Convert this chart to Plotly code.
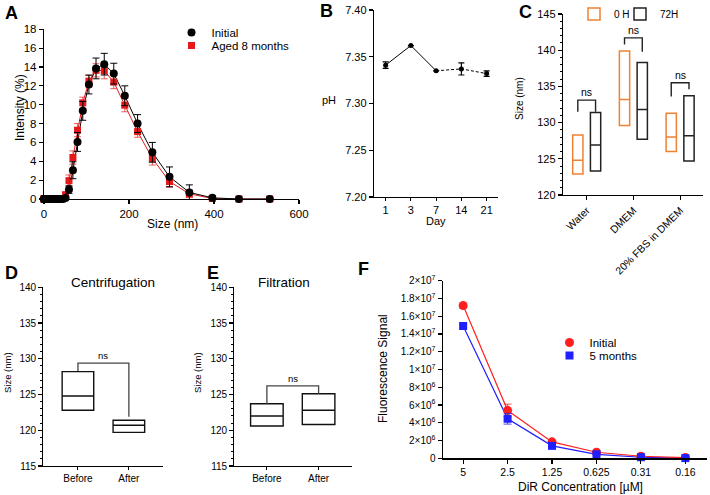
import plotly.graph_objects as go

W, H = 710, 495
FONT = "Arial, Liberation Sans, sans-serif"

# ---------------- Panel A data (DLS size distribution) ----------------
a_size = [0.4, 0.4632, 0.5365, 0.6213, 0.7195, 0.8332, 0.9649, 1.117, 1.294, 1.499,
          1.736, 2.01, 2.328, 2.696, 3.122, 3.615, 4.187, 4.849, 5.615, 6.503,
          7.531, 8.721, 10.1, 11.7, 13.54, 15.69, 18.17, 21.04, 24.36, 28.21,
          32.67, 37.84, 43.82, 50.75, 58.77, 68.06, 78.82, 91.28, 105.7, 122.4,
          141.8, 164.2, 190.1, 220.2, 255.0, 295.3, 342.0, 396.1, 458.7, 531.2]
a_initial = [0.0] * 33 + [0.1, 1.0, 3.05, 6.05, 9.35, 12.15, 13.85, 14.3, 13.3, 10.95,
                          8.0, 4.95, 2.35, 0.7, 0.12, 0.0, 0.0]
a_initial_err = [0.0] * 33 + [0.1, 0.4, 0.9, 1.0, 1.0, 1.0, 1.1, 1.15, 1.1, 1.05,
                              0.95, 1.05, 1.05, 0.8, 0.2, 0.0, 0.0]
a_aged = [0.0] * 33 + [0.45, 1.95, 4.4, 7.3, 10.2, 12.5, 13.65, 13.6, 12.4, 9.95,
                       7.15, 4.3, 1.85, 0.55, 0.05, 0.0, 0.0]
a_aged_err = [0.0] * 33 + [0.3, 0.6, 0.7, 0.7, 0.6, 0.6, 0.7, 0.85, 0.7, 0.7,
                           0.6, 0.7, 0.6, 0.4, 0.1, 0.0, 0.0]

# ---------------- Panel B data (pH) ----------------
b_days = ["1", "3", "7", "14", "21"]
b_ph = [7.341, 7.362, 7.335, 7.337, 7.332]
b_err = [0.0035, 0.0, 0.0, 0.0065, 0.003]

# ---------------- Panel C data (size in media) ----------------
c_groups = ["Water", "DMEM", "20% FBS in DMEM"]
c0_low = [122.9, 129.6, 126.0]
c0_mid = [124.8, 133.2, 128.0]
c0_high = [128.3, 139.9, 131.3]
c72_low = [123.3, 127.7, 124.7]
c72_mid = [126.9, 131.8, 128.2]
c72_high = [131.4, 138.3, 133.7]
c_br_top = [133.1, 141.7, 135.5]
c_br_left = [131.5, 140.8, 133.6]
c_br_right = [131.5, 139.8, 134.6]

# ---------------- Panel D / E data ----------------
de_labels = ["Before", "After"]
d_low = [122.8, 119.7]
d_mid = [124.8, 120.7]
d_high = [128.2, 121.4]
d_br = [129.4, 128.3, 121.9]   # bracket top, left leg end, right leg end
e_low = [120.6, 120.8]
e_mid = [122.0, 122.8]
e_high = [123.7, 125.1]
e_br = [126.2, 123.7, 125.1]

# ---------------- Panel F data (fluorescence) ----------------
f_conc = ["5", "2.5", "1.25", "0.625", "0.31", "0.16"]
f_init = [1.72e7, 5.4e6, 1.85e6, 6.8e5, 2.3e5, 8e4]
f_init_err = [3e5, 7e5, 1.5e5, 8e4, 4e4, 2e4]
f_5mo = [1.49e7, 4.45e6, 1.4e6, 4.5e5, 1.2e5, 2e4]
f_5mo_err = [2e5, 6e5, 1.2e5, 6e4, 3e4, 1e4]
f_yticks = [0, 2e6, 4e6, 6e6, 8e6, 1e7, 1.2e7, 1.4e7, 1.6e7, 1.8e7, 2e7]
f_yticktext = ["0", "2×10<sup>6</sup>", "4×10<sup>6</sup>", "6×10<sup>6</sup>", "8×10<sup>6</sup>",
               "1×10<sup>7</sup>", "1.2×10<sup>7</sup>", "1.4×10<sup>7</sup>", "1.6×10<sup>7</sup>",
               "1.8×10<sup>7</sup>", "2×10<sup>7</sup>"]


def px(x):
    return x / W


def py(y):
    return 1 - y / H


def dx(a, b):
    return [px(a), px(b)]


def dy(top, bottom):
    return [py(bottom), py(top)]


def axis(domain, rng, anchor, size=11, **kw):
    d = dict(domain=domain, range=rng, anchor=anchor, showline=True, linecolor="black",
             linewidth=1.2, ticks="outside", ticklen=4, tickwidth=1.1, tickcolor="black",
             showgrid=False, zeroline=False, fixedrange=True, automargin=False,
             ticklabeloverflow="allow",
             tickfont=dict(size=size, color="black", family=FONT))
    d.update(kw)
    return d


def legend_at(cx, cy, size=11.5, dy_sym=15.0):
    # single-entry legend whose symbol is centred near (cx, cy) pixels
    return dict(x=px(cx - 20.5), y=py(cy - dy_sym), xanchor="left", yanchor="top",
                bgcolor="rgba(0,0,0,0)", font=dict(family=FONT, size=size, color="black"),
                itemclick=False, itemdoubleclick=False)


fig = go.Figure()

# ---- Panel A ----
fig.add_trace(go.Scatter(x=a_size, y=a_aged, mode="lines", line=dict(color="#e41a1a", width=1),
                         xaxis="x", yaxis="y", showlegend=False, hoverinfo="skip", cliponaxis=False))
fig.add_trace(go.Scatter(x=a_size, y=a_initial, mode="lines", line=dict(color="black", width=1),
                         xaxis="x", yaxis="y", showlegend=False, hoverinfo="skip", cliponaxis=False))
fig.add_trace(go.Scatter(x=a_size, y=a_aged, mode="markers", name="Aged 8 months",
                         marker=dict(symbol="square", size=7, color="#e41a1a"),
                         error_y=dict(type="data", array=a_aged_err, color="rgba(228,40,40,0.75)",
                                      thickness=1, width=3.5),
                         xaxis="x", yaxis="y", legend="legend4", hoverinfo="skip", cliponaxis=False))
fig.add_trace(go.Scatter(x=a_size, y=a_initial, mode="markers", name="Initial",
                         marker=dict(symbol="circle", size=8, color="black"),
                         error_y=dict(type="data", array=a_initial_err, color="black",
                                      thickness=1, width=3.5),
                         xaxis="x", yaxis="y", legend="legend", hoverinfo="skip", cliponaxis=False))

# ---- Panel B ----
fig.add_trace(go.Scatter(x=b_days[:3], y=b_ph[:3], mode="lines", line=dict(color="black", width=1),
                         xaxis="x2", yaxis="y2", showlegend=False, hoverinfo="skip"))
fig.add_trace(go.Scatter(x=b_days[2:], y=b_ph[2:], mode="lines",
                         line=dict(color="black", width=1, dash="3px,2px"),
                         xaxis="x2", yaxis="y2", showlegend=False, hoverinfo="skip"))
fig.add_trace(go.Scatter(x=b_days, y=b_ph, mode="markers", marker=dict(size=5, color="black"),
                         error_y=dict(type="data", array=b_err, color="black", thickness=1.2, width=3),
                         xaxis="x2", yaxis="y2", showlegend=False, hoverinfo="skip"))

# ---- Panel C ----
c_pos = list(range(len(c_groups)))
c_off = 0.19
c0_x = [p - c_off for p in c_pos]
c72_x = [p + c_off for p in c_pos]
fig.add_trace(go.Box(x=c0_x, q1=c0_low, median=c0_mid, q3=c0_high, lowerfence=c0_low,
                     upperfence=c0_high, width=0.22, whiskerwidth=0, boxpoints=False,
                     fillcolor="rgba(0,0,0,0)", line=dict(color="#ef8133", width=1.5),
                     name="0 H", xaxis="x3", yaxis="y3", legend="legend2", hoverinfo="skip"))
fig.add_trace(go.Box(x=c72_x, q1=c72_low, median=c72_mid, q3=c72_high, lowerfence=c72_low,
                     upperfence=c72_high, width=0.22, whiskerwidth=0, boxpoints=False,
                     fillcolor="rgba(0,0,0,0)", line=dict(color="#222222", width=1.5),
                     name="72H", xaxis="x3", yaxis="y3", legend="legend5", hoverinfo="skip"))
bx, by = [], []
for i in c_pos:
    bx += [c0_x[i], c0_x[i], c72_x[i], c72_x[i], None]
    by += [c_br_left[i], c_br_top[i], c_br_top[i], c_br_right[i], None]
fig.add_trace(go.Scatter(x=bx, y=by, mode="lines", line=dict(color="#222222", width=1.4),
                         xaxis="x3", yaxis="y3", showlegend=False, hoverinfo="skip"))

# ---- Panel D & E ----
de_pos = [0, 1]
for (low, mid, high, br, xa, ya, w) in [(d_low, d_mid, d_high, d_br, "x4", "y4", 0.62),
                                        (e_low, e_mid, e_high, e_br, "x5", "y5", 0.63)]:
    fig.add_trace(go.Box(x=de_pos, q1=low, median=mid, q3=high, lowerfence=low, upperfence=high,
                         width=w, whiskerwidth=0, boxpoints=False, fillcolor="rgba(0,0,0,0)",
                         line=dict(color="#111111", width=1.4), xaxis=xa, yaxis=ya,
                         showlegend=False, hoverinfo="skip"))
    fig.add_trace(go.Scatter(x=[de_pos[0], de_pos[0], de_pos[1], de_pos[1]],
                             y=[br[1], br[0], br[0], br[2]], mode="lines",
                             line=dict(color="#444444", width=1.3), xaxis=xa, yaxis=ya,
                             showlegend=False, hoverinfo="skip"))

# ---- Panel F ----
fig.add_trace(go.Scatter(x=f_conc, y=f_5mo, mode="lines", line=dict(color="#1f1fff", width=1.2),
                         xaxis="x6", yaxis="y6", showlegend=False, hoverinfo="skip", cliponaxis=False))
fig.add_trace(go.Scatter(x=f_conc, y=f_init, mode="lines", line=dict(color="#ff1f1f", width=1.2),
                         xaxis="x6", yaxis="y6", showlegend=False, hoverinfo="skip", cliponaxis=False))
fig.add_trace(go.Scatter(x=f_conc, y=f_init, mode="markers", name="Initial",
                         marker=dict(symbol="circle", size=9, color="#ff1f1f"),
                         error_y=dict(type="data", array=f_init_err, color="rgba(230,40,40,0.8)",
                                      thickness=1, width=4),
                         xaxis="x6", yaxis="y6", legend="legend3", hoverinfo="skip", cliponaxis=False))
fig.add_trace(go.Scatter(x=f_conc, y=f_5mo, mode="markers", name="5 months",
                         marker=dict(symbol="square", size=8, color="#1f1fff"),
                         error_y=dict(type="data", array=f_5mo_err, color="rgba(40,40,230,0.8)",
                                      thickness=1, width=4),
                         xaxis="x6", yaxis="y6", legend="legend6", hoverinfo="skip", cliponaxis=False))

# ---------------- annotations ----------------
ann = []


def text(x, y, s, size=11, angle=0, bold=False, xanchor="center", yanchor="middle"):
    ann.append(dict(x=px(x), y=py(y), xref="paper", yref="paper", text=f"<b>{s}</b>" if bold else s,
                    showarrow=False, textangle=angle, xanchor=xanchor, yanchor=yanchor,
                    font=dict(family=FONT, size=size, color="black")))


for letter, lx, ly in [("A", 11, 13), ("B", 326, 11), ("C", 525, 12),
                       ("D", 12, 273), ("E", 213, 273), ("F", 363, 269)]:
    text(lx, ly, letter, size=18, bold=True)

text(20, 108, "Intensity (%)", size=12, angle=-90)
text(172, 224, "Size (nm)", size=12)
text(329, 100, "pH", size=11)
text(436, 221, "Day", size=11)
text(520, 99, "Size (nm)", size=10, angle=-90)
text(7, 373, "Size (nm)", size=9.5, angle=-90)
text(197, 373, "Size (nm)", size=9.5, angle=-90)
text(113, 282, "Centrifugation", size=13.5)
text(284, 282, "Filtration", size=13.5)
text(383, 368, "Fluorescence Signal", size=12, angle=-90)
text(580, 487, "DiR Concentration [µM]", size=12)

# "ns" labels placed above bracket tops via data coordinates
for i in c_pos:
    ann.append(dict(x=c_pos[i], y=c_br_top[i], xref="x3", yref="y3", text="ns", showarrow=False,
                    yanchor="bottom", yshift=0, font=dict(family=FONT, size=10.5, color="black")))
for br, xr, yr in [(d_br, "x4", "y4"), (e_br, "x5", "y5")]:
    ann.append(dict(x=0.5, y=br[0], xref=xr, yref=yr, text="ns", showarrow=False,
                    yanchor="bottom", yshift=0, font=dict(family=FONT, size=9.5, color="black")))

minor = dict(ticks="outside", dtick=1, ticklen=2, tickcolor="black", tickwidth=1)

fig.update_layout(
    width=W, height=H, margin=dict(l=0, r=0, t=0, b=0, autoexpand=False),
    paper_bgcolor="white", plot_bgcolor="white",
    font=dict(family=FONT, color="black"),
    annotations=ann,
    boxmode="overlay",
    xaxis=axis(dx(44, 299), [0, 600], "y", size=11.5, dtick=200),
    yaxis=axis(dy(29.3, 199), [0, 18], "x", size=11.5, dtick=2),
    xaxis2=axis(dx(374, 498), [-0.46, 4.45], "y2", type="category", ticklen=3),
    yaxis2=axis(dy(10, 197), [7.20, 7.40], "x2", dtick=0.05, tickformat=".2f"),
    xaxis3=axis(dx(563, 703), [-0.507, 2.49], "y3", tickvals=c_pos, ticktext=c_groups,
                tickangle=-45, size=10.5),
    yaxis3=axis(dy(14, 195), [120, 145], "x3", dtick=5, minor=minor),
    xaxis4=axis(dx(43.3, 163), [-0.68, 1.67], "y4", tickvals=de_pos, ticktext=de_labels,
                size=10, ticklen=3),
    yaxis4=axis(dy(287.3, 466), [115, 140], "x4", dtick=5, size=10, minor=minor),
    xaxis5=axis(dx(234.3, 351.7), [-0.63, 1.64], "y5", tickvals=de_pos, ticktext=de_labels,
                size=10, ticklen=3),
    yaxis5=axis(dy(287.3, 466), [115, 140], "x5", dtick=5, size=10, minor=minor),
    xaxis6=axis(dx(442.7, 706.7), [-0.46, 5.48], "y6", type="category", size=10.5),
    yaxis6=axis(dy(280.7, 458.3), [0, 2e7], "x6", tickvals=f_yticks, ticktext=f_yticktext, size=10),
    legend=legend_at(192, 33),
    legend4=legend_at(192, 46),
    legend2=legend_at(594.5, 12, size=10, dy_sym=12.5),
    legend5=legend_at(640.5, 12, size=10, dy_sym=12.5),
    legend3=legend_at(570, 343),
    legend6=legend_at(570, 356),
)

# the page's default 8px body margin would push the 710x495 figure off the window
fig.write_html("out.html", config={"displayModeBar": False, "staticPlot": True},
               post_script="document.body.style.margin='0px';")
